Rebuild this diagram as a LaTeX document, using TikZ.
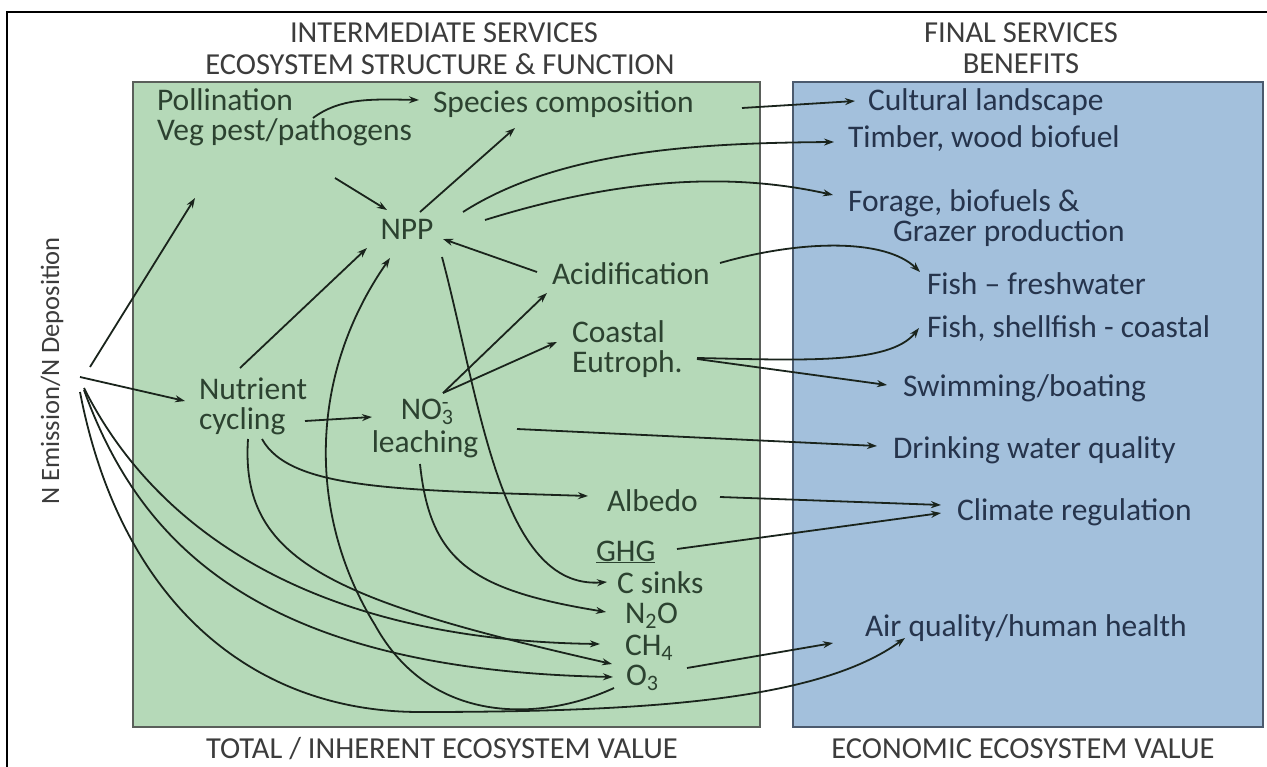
\documentclass[tikz,border=0pt]{standalone}
\usepackage{fontspec}
\setmainfont{Carlito}
\usetikzlibrary{calc,arrows.meta}
\definecolor{gfill}{RGB}{181,217,184}
\definecolor{bfill}{RGB}{163,192,220}
\definecolor{gline}{RGB}{90,95,90}
\definecolor{bline}{RGB}{75,90,110}
\definecolor{gtext}{RGB}{44,66,48}
\definecolor{btext}{RGB}{38,52,76}
\definecolor{htext}{RGB}{60,60,60}
\definecolor{acol}{RGB}{26,36,28}
\begin{document}
\begin{tikzpicture}[x=1pt,y=-1pt,
  lbl/.style={inner sep=0pt,outer sep=0pt,font=\fontsize{31.5}{30}\selectfont,text=gtext,anchor=west,text height=21pt,text depth=5pt},
  lbltwo/.style={inner sep=0pt,outer sep=0pt,font=\fontsize{31.5}{30}\selectfont,text=gtext,anchor=west,align=left},
  blbl/.style={lbl,text=btext},
  blbltwo/.style={lbltwo,text=btext},
  hdr/.style={inner sep=0pt,outer sep=0pt,font=\fontsize{30.5}{30}\selectfont,text=htext},
  arr/.style={line width=1.8pt,draw=acol,-{Stealth[length=10pt,width=7pt]}}]
\useasboundingbox (0,0) rectangle (1267,767);
% outer frame
\draw[black,line width=1.5pt] (7,767) -- (7,12) -- (1267,12);
% boxes
\filldraw[fill=gfill,draw=gline,line width=1.8pt] (133,82) rectangle (760,727);
\filldraw[fill=bfill,draw=bline,line width=1.8pt] (793,82) rectangle (1263,727);
% headers
\node[hdr] (h1) at (444,33) {INTERMEDIATE SERVICES};
\node[hdr] (h2) at (440,64) {ECOSYSTEM STRUCTURE \& FUNCTION};
\node[hdr] (h3) at (1021,33) {FINAL SERVICES};
\node[hdr] (h4) at (1021,64) {BENEFITS};
\node[hdr] (f1) at (442,749) {TOTAL / INHERENT ECOSYSTEM VALUE};
\node[hdr] (f2) at (1023,749) {ECONOMIC ECOSYSTEM VALUE};
\node[hdr,rotate=90,font=\fontsize{26.5}{26}\selectfont] (nem) at (52,371) {N Emission/N Deposition};
% green nodes
\node[lbltwo] (poll) at (157,117) {Pollination\\Veg pest/pathogens};
\node[lbl] (spec) at (433,105) {Species composition};
\node[lbl,anchor=center] (npp) at (407,232) {NPP};
\node[lbl] (acid) at (552,277) {Acidification};
\node[lbltwo] (coast) at (572,349) {Coastal\\Eutroph.};
\node[lbltwo] (nutr) at (199,406) {Nutrient\\cycling};
\node[lbltwo,anchor=center,align=center] (no3) at (425,428) {NO\rlap{\textsubscript{3}}\textsuperscript{-}\\[3pt]leaching};
\node[lbl] (albedo) at (607,503) {Albedo};
\node[lbl] (ghg) at (596,553) {\underline{GHG}};
\node[lbl] (csinks) at (617,585) {C sinks};
\node[lbl,text depth=3pt] (n2o) at (625,614) {N\textsubscript{2}O};
\node[lbl,text depth=3pt,text height=19pt] (ch4) at (625,647) {CH\textsubscript{4}};
\node[lbl,text height=19pt] (o3) at (626,678) {O\textsubscript{3}};
% blue nodes
\node[blbl] (cult) at (868,103) {Cultural landscape};
\node[blbl] (timber) at (848,140) {Timber, wood biofuel};
\node[blbltwo] (forage) at (848,218) {Forage, biofuels \&\\\hspace*{45pt}Grazer production};
\node[blbl] (fishf) at (927,287) {Fish -- freshwater};
\node[blbl] (fishc) at (927,330) {Fish, shellfish - coastal};
\node[blbl] (swim) at (903,388) {Swimming/boating};
\node[blbl] (drink) at (893,450) {Drinking water quality};
\node[blbl] (climate) at (957,512) {Climate regulation};
\node[blbl] (air) at (865,628) {Air quality/human health};
% connectors from N emission
\draw[arr] ($(nem)+(38,-4)$) -- ($(poll.west)+(38,81)$);
\draw[arr] ($(nem)+(28,6)$) -- ($(nutr.west)+(-14,-5)$);
\draw[arr] ($(nem)+(32,17)$) .. controls (150,520) and (300,640) .. ($(ch4.west)+(-25,-3)$);
\draw[arr] ($(nem)+(32,19)$) .. controls (140,545) and (260,670) .. ($(o3.west)+(-13,-1)$);
\draw[arr] ($(nem)+(28,21)$) .. controls (120,600) and (250,712) .. (420,712) .. controls (650,712) and (820,700) .. ($(air.west)+(40,10)$);
% nutrient cycling
\draw[arr] ($(nutr.west)+(41,-38)$) -- ($(npp)+(-40,16)$);
\draw[arr] ($(nutr.west)+(106,15)$) -- ($(no3)+(-53,-11)$);
\draw[arr] ($(nutr.west)+(63,33)$) .. controls (290,490) and (400,490) .. ($(albedo.west)+(-19,-7)$);
\draw[arr] ($(nutr.west)+(49,33)$) .. controls (240,560) and (330,600) .. ($(o3.west)+(-14,-14)$);
% NO3 leaching
\draw[arr] ($(no3)+(18,-35)$) -- ($(acid.west)+(-5,16)$);
\draw[arr] ($(no3)+(18,-35)$) -- ($(coast.west)+(-15,-7)$);
\draw[arr] ($(no3)+(92,1)$) -- ($(drink.west)+(-16,-4)$);
\draw[arr] ($(no3)+(-5,36)$) .. controls (430,560) and (470,590) .. ($(n2o.west)+(-19,-2)$);
% NPP
\draw[arr] ($(npp)+(35,25)$) .. controls (480,400) and (500,590) .. ($(csinks.west)+(-10,-3)$);
\draw[arr] ($(npp)+(13,-20)$) -- ($(spec.west)+(82,23)$);
\draw[arr] ($(npp)+(56,-20)$) .. controls (560,150) and (700,143) .. ($(timber.west)+(-14,2)$);
\draw[arr] ($(npp)+(78,-12)$) .. controls (620,178) and (730,172) .. ($(forage.west)+(-15,-23)$);
% acidification
\draw[arr] ($(acid.west)+(-15,-5)$) -- ($(npp)+(36,7)$);
\draw[arr] ($(acid.west)+(168,-14)$) .. controls (800,240) and (885,238) .. ($(fishf.west)+(-7,-15)$);
% coastal
\draw[arr] ($(coast.west)+(125,9)$) .. controls (800,360) and (890,365) .. ($(fishc.west)+(-8,-2)$);
\draw[arr] ($(coast.west)+(125,10)$) -- ($(swim.west)+(-16,-3)$);
% species, pollination
\draw[arr] ($(spec.west)+(309,3)$) -- ($(cult.west)+(-13,-2)$);
\draw[arr] ($(poll.west)+(156,1)$) .. controls (340,98) and (370,99) .. ($(spec.west)+(-14,-5)$);
\draw[arr] ($(poll.west)+(178,61)$) -- ($(npp)+(-20,-22)$);
% climate
\draw[arr] ($(albedo.west)+(113,-6)$) -- ($(climate.west)+(-16,-7)$);
\draw[arr] ($(ghg.west)+(81,-4)$) -- ($(climate.west)+(-16,1)$);
% O3
\draw[arr] ($(o3.west)+(61,-10)$) -- ($(air.west)+(-32,15)$);
\draw[arr] ($(o3.west)+(-12,10)$) .. controls (540,722) and (430,725) .. (375,625) .. controls (310,520) and (305,380) .. ($(npp)+(-17,26)$);
\end{tikzpicture}
\end{document}
